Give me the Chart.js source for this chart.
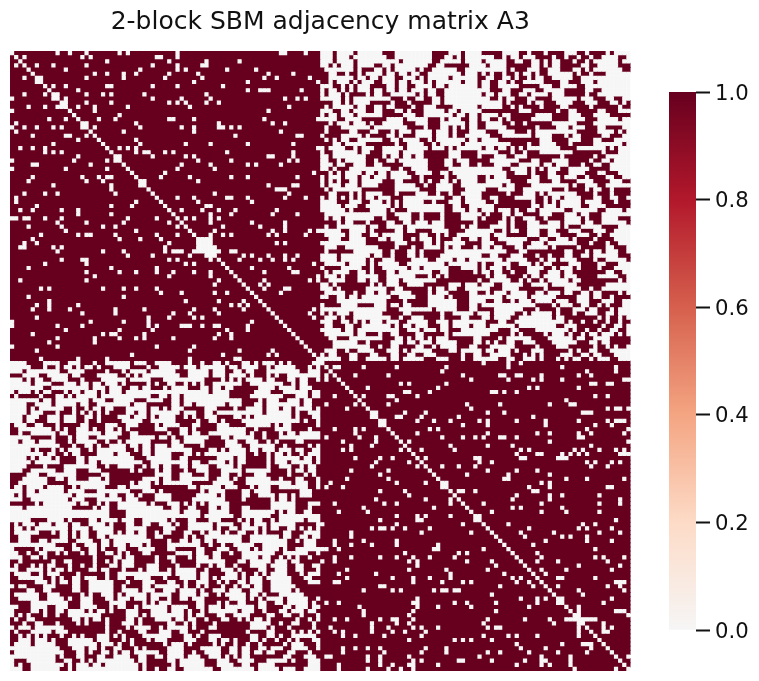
<!DOCTYPE html>
<html><head><meta charset="utf-8">
<style>
html,body{margin:0;padding:0;background:#fff;width:759px;height:681px;overflow:hidden}
#main{position:absolute;left:0;top:0}
#bar{position:absolute;left:659px;top:72px}
</style>
<script src="https://cdn.jsdelivr.net/npm/chart.js@4"></script>
</head><body>
<canvas id="main" width="650" height="681"></canvas>
<canvas id="bar" width="100" height="580"></canvas>
<script>
const chartTitle = "2-block SBM adjacency matrix A3";
const nodeCount = 150;
const blockSize = 75;
const colorbarTicks = [0, 0.2, 0.4, 0.6, 0.8, 1];
const colorbarColors = ["#f6f6f6", "#fddbc7", "#f4a582", "#d6604d", "#b2182b", "#67001f"];
// Rows 0-74, columns 75-149 (column numbers relative to 75): cells holding an edge
const crossBlockEdges = [
"3 8 15-17 27-30 34 39-43 48-49 51-53 55-58 62-63 65-68 70",
"3 7 16-17 27-29 32 34 42-43 45 48 52-55 57-58 60-61 63-64 66-67 72-73",
"3 8 19 27-28 34 39 45-46 49-50 53 55 58-60 62-63 65 72",
"2 4 8 13-14 17 26-27 30-35 40 45-50 53 55 58-62 65-66 72-74",
"0 8 10-12 15 17 23 25-26 33-34 45 47-49 53-54 58-60 63 65 73-74",
"0-1 4-5 7-8 10 15 18 21 24-25 34 38 40 42-43 45-46 48 51 53-54 61 63-64 66-68",
"0-1 8 11 14 18-19 23 25 31 38-39 42-43 46 48-49 51 54-55 61-62",
"0-1 3 7 9 13-14 18 21 25 27 34 38 41-42 45 47-48 54-57 60-62 66",
"3-4 6 8 12-15 18 21-22 27 30 38 41-42 48-52 56-57 62-63",
"1 4 6 8 12 15 18 21 25 28-29 41-43 46-48 52-53 59-63 66-67",
"1 5 7-10 12 15-16 23 25 28-29 39 42 46-47 50 55 59-63 65-66",
"5 7 17-19 21-22 25-26 29 41-42 44 47-49 52-55 62 66-68 71-72",
"0-2 5 7 12-16 18-20 22-26 29 44 46-49 51 54-56 61-63 67-69 72 74",
"0 2 8 11-12 15 18-21 23-24 28-31 38 44-45 47 49-52 54-57 60-64 66-71 73-74",
"3-4 7 11-12 15-17 20 22-24 30 33 39-47 51-56 58-59 62-66 69-71",
"1 4 8 15-19 23-24 32 35 38 43 46-51 56-59 63-65 70-74",
"4-5 10-15 20 26-28 30 34-35 38 41-42 44 46-50 56-59 64-66 72",
"0-1 3 7 11 13-14 20-22 26-28 35 38-39 44-45 47-48 50-55 62-65",
"0 2-4 12 21-24 26-28 31 33 35 38-39 45-50 51 53-56 60 64-66 69-72",
"0 2-6 9-11 14-16 18 22 27 31 33-35 40-42 47-49 51 62-66 71 73",
"1-4 10 12-15 18 20-22 27 31 33-34 41-43 51 56-58 60 63-67 70-72",
"0 2 4 7-8 15-16 19 24-25 27 35 38 43-52 56-59 63-65 68-70",
"0-2 5 11-17 19-20 25-26 28 34 46-49 51-52 57-59 61-65 73",
"1 6-7 9 13-14 20 26 30 32 39 42 45 47 49 58-61 69 71",
"1-2 9 12-14 19 25-30 34-37 43-45 47-48 50-52 61-67 69-71",
"2 11-14 16 19 22 25-30 34-37 39-41 45-46 50-57 59-65 67-68",
"2-3 5 11-12 14-15 18 26-29 32 36-37 38-40 48-50 53-55 60-64 66-67 70",
"3 6-7 11-12 15-19 26-29 32-33 36-37 39-41 46-47 53 56 60-62 64-65 68-69",
"2 4-6 17-18 20-21 26-30 44-45 50 52 54 58-59 65-69",
"0-1 3 5 10 13 16 21-22 27-28 31 45-46 50 52-54 57-59 64-66 69-71",
"1 5 9 12 16 22-23 25-29 31-32 38-39 41 45-50 53-54 58 62-63 65-68 71-72",
"1 3 5-6 9 15-17 20-23 25 27-28 31 33 38-39 46-49 53-55 58-61 66-69 73-74",
"1 5 9 14-17 23-24 26-27 32-33 44 47-50 60 62-63 67-68",
"0 2 10-17 24-27 32-34 40-42 47-48 56-58 60-63 65 68-69 71-74",
"0-1 4-6 8 10 15-17 19-22 26-27 29-30 32-33 39-44 46-48 52 54 62-65 67-69 71-74",
"1 4 6 8 10 13 17-19 30-31 34 39-40 43-46 52-53 55 58 63-65 68-69 72-73",
"4-6 10-11 15 17 19 25-26 28-30 34 40-41 43-50 52-53 55 57 63 68-70 72-74",
"5 9-10 17 19 30-31 34-35 42-50 53 57 63-64 69-74",
"6 8-11 16 18-20 30-31 35 38 42 46 48-49 52 59-60 67-68 73",
"0 16-17 22-23 25-28 30-33 39 41-43 46 49-52 56-58 62 65-67",
"0 2 5 13-14 16-18 22-23 25-28 30-33 38 40-43 45 47-48 52-53 55-58 63 65-67 72-74",
"0-3 5 8-10 12-15 18-19 22 26 30-36 38-42 45 47-49 53-54 58 63 66-67 74",
"0 2-3 11 14-15 20 30-33 35 38-40 45 47-49 58 60-62 68-71",
"5-6 11 13-17 20 23-26 31-34 42-43 45 48-49 53-54 57-59 63-65 69-70",
"0 6 10-11 14 20-23 26-27 29 31-32 41 45-49 53-54 58-61 65-66 68-69",
"0-1 5-6 11-13 16 20-21 23 27 29-31 34-35 38 41-42 50-52 55-56 60 62-65 67-70",
"11-17 21-24 27 29 35-37 38 42-44 49-50 54 62-64 66-68 70-71",
"0 4-5 14-17 19-21 23-24 29 31 34-36 38 41 44-46 49 55 57-61 63-68 71-73",
"0 2-7 15-16 18-20 23 25-29 45-47 50-58 61-63 65 68 72-73",
"4 12 15-16 18-20 23 25-28 39-40 43-45 49-51 53-54 56-58 61-62 65 72-74",
"4 11 13-14 18-21 26-27 32 35 44 50-52 54 57 62-65 67-68 74",
"0 6 11 13 19-20 30 38 40-41 46-47 51 53 56-59 63-66 69-71",
"1-4 10-11 13-14 21 24 31-33 38 40 44 46-49 54-55 57 61 63-66 68-70",
"0 2 7-8 11 13-15 18 27-28 31-36 38 41 44-45 47-49 53-54 58 61-68 71-72",
"0 4 6-8 14-15 23-25 27 29 31-37 38-39 41 45-48 50 53 58 62-66 72-73",
"0-1 6-8 11 14-15 19 28-37 39-40 46-47 49 51-52 54 60 63-71 73",
"2 4-11 13 15 19-20 25-30 34 38 42-43 49-50 55 62-68",
"3 5-10 16-17 20-25 27 30 33-34 41-43 48-53 55-58 63-64 66-67",
"0 6-7 9-10 13 16 22-25 27 31-35 38-39 41 45 50-51 54 58 61-62 65 68-71 73",
"2-3 6 9 17-18 23-25 30 32-35 44 50 57-61 65 68-69 71-74",
"0-3 16-19 21-25 33-35 40-41 44-45 47 51 56 60-61 65-67 71-72",
"1-4 9-12 16 19 22-25 33-35 38 52-55 57 61-62 65-66 68 70-72",
"16-18 27 33-35 38-41 49-51 53-56 58-60 64 67-69 71",
"1 3 7 15-19 22-28 30-31 37 41 47-48 50 56 58-60 62-63 67-68 71",
"0 4 6-7 17-18 20-21 25-28 30-33 36-37 38 41 46-47 56 59-66 68 70-71 73",
"3-4 7 9 11 15 19-20 26-27 31 40-42 45-46 59 61-62 64-65 67-68 70-71 73-74",
"0 3-5 8-9 17 19 22 26-28 31 36 40 47 57-58 62-67 69-70 73",
"5 8 19-20 24 28 31-33 43-45 48-51 60 62-63 65-66 68-69 72-73",
"0 8 11-13 15-16 19-22 25-29 31 41-45 47 49-53 55 59 61-62 64 67 71 73",
"0-1 4-6 15-17 20 22 25 27 31-36 39-42 44 51-54 61 64-65 70-74",
"0-2 9-10 12-16 20 23 27 33-36 39 41 43-44 47-48 52-55 62-64 67 70-74",
"0-2 12-13 15-16 19-22 25-26 28 33-35 38-40 47-51 53-56 60-65 67-68 70 72-73",
"0 4-5 7-8 13-15 19 21 27-30 33 39 42 46 48-50 54-59 61 63-64 67-69",
"1 4-6 9-11 14-16 19-20 23-24 28-33 35-36 39-40 46-48 50 52 54-57 61-62 65 68-70",
"5-6 9-10 16 19 25-27 31-33 35-36 43-44 47-48 52 54-56 58 60 63-64 66 70-71"
];
// Rows 0-74 of the first block: columns inside the dense block with no edge (above the diagonal)
const firstBlockGaps = [
"11 14 18 26 28 40 65 66 71","3 17 19 35 36 40","23 38 47 55","6 10 18 34 40 46 47","13 31 40 42 52 59",
"20 23 27 30 38 45 62 68","7 18 27 37 46 61 64 72","44 57 74","10 13 23 24 34 40 51","16 57 60 61 62 70",
"11 18 22 24 32 47","13 34 41 48 66 69 71","13 18 24 38 40 42 47 50","16 20 28 43 67","20 62",
"26","21 25 38 39 44 61 74","18 30 50 63 66","20 31 41 44 50 51 53 55","27 44 65",
"54 69 70","30","31 42 48 57 68","26 28 30 74","30 32 33 37 39 52 68",
"26 34 42 44 62 63 68","45 53 67 69","41 48 57 59 65","40 49","37 73",
"36 43 53 57 69","32 45","62 68 69","64 65 66","49 67",
"40 44 52 53 57 66 71","45 58","47 48","41 46 50 54 64","48 53 63 69",
"42 44 48 50","48 58 66","51 60 66","49 63 66 72 74","48 51 53 62 64 71",
"46 47 48","47 48 64 66","48 49","49 50 53 54","56 58 62 66 69",
"55 60 63 66 68","73","58 67","61 68 69","74",
"61 72 74","60 62","61 66 67","65","",
"","","73","72","73",
"","","","","","","","","",""
];
// Rows 0-74 of the second block (numbers relative to 75)
const secondBlockGaps = [
"39 45 48","3 4 10 18 30 45 58 71","29 64 71","8 16 34 43 44 47 48 53 62 65","36 45 51 53 58 73 74",
"19 21 30 65 66 69 70","11 28 50 52 62","20 21 26 41 42 44 47","10 16 17 23 66 69","18 59",
"16 35 43 55 60 61","36 69 71 72 74","13 20 25 40 44 63 64 65","18 19 24 33 51","15 23 27 31 38 40 47 54 62 69 71 72 73",
"34 40 54 66 70","26 28 64 74","23 40 52 55 62 65 73","29 34 37 39 43 44 47 62 63","21 55 74",
"31 40 46 65","24 32 48 50 61 63 67 71 73","47 52 53 58 60 62 64 72 73 74","25 37 38 48 49 57 58 59","38 41 64 66 70 72",
"29 33 37 65 69","40 47 52","35 45 55","44 45 59 64 73","30 53 55",
"50 55 69 70","33 34 37 51 52","47 55 58 67","46 55 72","39 53 67 72",
"46 48 58","41 53 59 67","38","71","45 63 66",
"50 62 64 70","48 56 67 72","49 58 60 64","54 64 70","51",
"66","52","53 66 68 73","52 57 69","62 72",
"53 59 70","54","57 58 66","71 72 73","57 69 72",
"62 73","63","58 70","68","62",
"62 71 72 73","62 74","63 64 65 66","68","68 70",
"68 69","","","","",
"","74","","",""
];

function parseCols(text){
  const out=[];
  text.split(" ").filter(Boolean).forEach(t=>{
    const p=t.split("-").map(Number);
    for(let c=p[0];c<=(p.length>1?p[1]:p[0]);c++) out.push(c);
  });
  return out;
}
const matrix=[];
for(let r=0;r<nodeCount;r++){
  const row=[];
  for(let c=0;c<nodeCount;c++) row.push(r===c?0:((r<blockSize)===(c<blockSize)?1:0));
  matrix.push(row);
}
function setCell(r,c,v){ if(r<nodeCount&&c<nodeCount){matrix[r][c]=v;matrix[c][r]=v;} }
crossBlockEdges.forEach((t,r)=>parseCols(t).forEach(c=>setCell(r,c+blockSize,1)));
firstBlockGaps.forEach((t,r)=>parseCols(t).forEach(c=>setCell(r,c,0)));
secondBlockGaps.forEach((t,r)=>parseCols(t).forEach(c=>setCell(r+blockSize,c+blockSize,0)));

const zeros=[],ones=[];
matrix.forEach((row,r)=>row.forEach((v,c)=>{(v?ones:zeros).push({x:c+0.5,y:r+0.5});}));

const cellRadius=(620/nodeCount)/Math.SQRT2;
new Chart(document.getElementById("main"),{
  type:"scatter",
  data:{datasets:[
    {label:"1",data:ones,pointStyle:"rect",pointRadius:cellRadius+0.75,pointBorderWidth:0,backgroundColor:colorbarColors[5],order:2},
    {label:"0",data:zeros,pointStyle:"rect",pointRadius:cellRadius+0.05,pointBorderWidth:0,backgroundColor:colorbarColors[0],order:1}
  ]},
  options:{
    responsive:false,animation:false,events:[],
    layout:{padding:{left:10,right:19.5,top:0,bottom:10}},
    scales:{
      x:{type:"linear",min:0,max:nodeCount,display:false},
      y:{type:"linear",min:0,max:nodeCount,reverse:true,display:false}
    },
    plugins:{
      legend:{display:false},tooltip:{enabled:false},
      title:{display:true,text:chartTitle,color:"#111111",align:"center",
        font:{family:"'DejaVu Sans'",size:25,weight:"normal"},padding:{top:7,bottom:14}}
    }
  }
});

new Chart(document.getElementById("bar"),{
  type:"bar",
  data:{labels:["scale"],datasets:[{
    data:[[colorbarTicks[0],colorbarTicks[colorbarTicks.length-1]]],
    barPercentage:1,categoryPercentage:1,borderWidth:0,
    backgroundColor(ctx){
      const a=ctx.chart.chartArea;
      if(!a) return colorbarColors[5];
      const g=ctx.chart.ctx.createLinearGradient(0,a.bottom,0,a.top);
      colorbarColors.forEach((col,i)=>g.addColorStop(colorbarTicks[i],col));
      return g;
    }
  }]},
  options:{
    responsive:false,animation:false,events:[],
    layout:{padding:{left:10,right:11,top:20,bottom:22}},
    scales:{
      x:{display:false},
      y:{type:"linear",position:"right",min:0,max:1,
        afterBuildTicks(s){s.ticks=colorbarTicks.map(v=>({value:v}));},
        afterFit(s){s.width=52;},
        border:{display:false},
        grid:{drawOnChartArea:false,drawTicks:true,tickLength:14,tickWidth:2,tickColor:"#111111"},
        ticks:{color:"#111111",font:{family:"'DejaVu Sans'",size:21.2},padding:5,labelOffset:2,
          callback:v=>Number(v).toFixed(1)}
      }
    },
    plugins:{legend:{display:false},tooltip:{enabled:false},title:{display:false}}
  }
});
</script>
</body></html>
